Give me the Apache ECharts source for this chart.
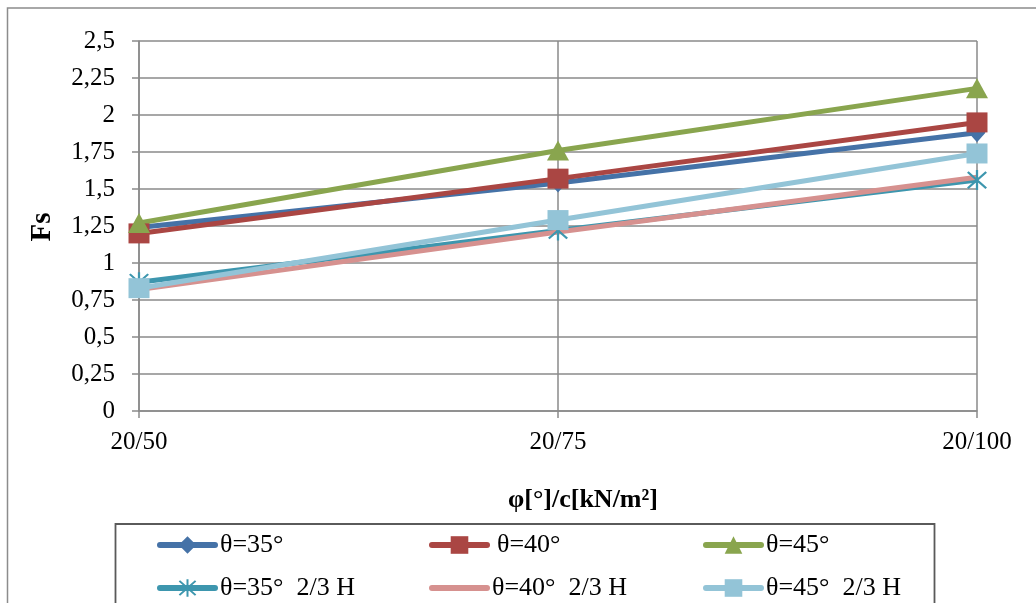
<!DOCTYPE html>
<html>
<head>
<meta charset="utf-8">
<script src="https://cdn.jsdelivr.net/npm/echarts@6/dist/echarts.min.js"></script>
<style>
  html, body { margin: 0; padding: 0; background: #ffffff; }
  #chart { width: 1036px; height: 603px; }
</style>
</head>
<body>
<div id="chart"></div>
<script>
// Safety factor Fs for each strength pair φ/c
const categories = ['20/50', '20/75', '20/100'];
const seriesNames = ['θ=35°', 'θ=40°', 'θ=45°', 'θ=35°  2/3 H', 'θ=40°  2/3 H', 'θ=45°  2/3 H'];
const fsTheta35 = [1.24, 1.54, 1.88];
const fsTheta40 = [1.20, 1.57, 1.95];
const fsTheta45 = [1.27, 1.76, 2.18];
const fsTheta35TwoThirdsH = [0.87, 1.22, 1.56];
const fsTheta40TwoThirdsH = [0.82, 1.21, 1.58];
const fsTheta45TwoThirdsH = [0.83, 1.29, 1.74];
const yTicks = { min: 0, max: 2.5, interval: 0.25 };
const xTitle = 'φ[°]/c[kN/m²]';
const yTitle = 'Fs';

const FONT = '"Liberation Serif", "Times New Roman", serif';
const GRID_GRAY = '#8a8a8a';

// asterisk marker: vertical bar plus an X
const STAR = 'path://M9,0 L11,0 L11,20 L9,20 Z M2.6,1.2 L18.8,17.4 L17.4,18.8 L1.2,2.6 Z M17.4,1.2 L18.8,2.6 L2.6,18.8 L1.2,17.4 Z';

const styles = [
  { color: '#4572A7', symbol: 'diamond', size: [17, 19], data: fsTheta35 },
  { color: '#AA4643', symbol: 'rect', size: [21, 20], data: fsTheta40 },
  { color: '#89A54E', symbol: 'triangle', size: [22, 20], data: fsTheta45 },
  { color: '#3D96AE', symbol: STAR, size: [20, 20], data: fsTheta35TwoThirdsH },
  { color: '#D6918F', symbol: 'none', size: 0, data: fsTheta40TwoThirdsH },
  { color: '#93C4D7', symbol: 'rect', size: [21, 20], data: fsTheta45TwoThirdsH }
];

const series = styles.map((s, i) => ({
  name: seriesNames[i],
  type: 'line',
  data: s.data,
  symbol: s.symbol,
  symbolSize: s.size,
  showSymbol: s.symbol !== 'none',
  color: s.color,
  lineStyle: { width: 5, color: s.color },
  itemStyle: { color: s.color, borderWidth: 0 },
  emphasis: { disabled: true },
  animation: false
}));

// legend slots: three columns, two rows
const legendSlots = [
  { left: 157, top: 532, pad: 0 },
  { left: 429, top: 532, pad: 5 },
  { left: 703, top: 532, pad: 0 },
  { left: 157, top: 575, pad: 0 },
  { left: 429, top: 575, pad: 0 },
  { left: 703, top: 575, pad: 0 }
];

const legends = legendSlots.map((p, i) => ({
  left: p.left,
  top: p.top,
  padding: 0,
  itemWidth: 55,
  itemHeight: 22,
  selectedMode: false,
  lineStyle: { width: 6, cap: 'round' },
  data: [i === 4 ? { name: seriesNames[i], itemStyle: { opacity: 0 } } : seriesNames[i]],
  textStyle: { fontFamily: FONT, fontSize: 26, color: '#000', lineHeight: 22, padding: [0, 0, 0, p.pad] }
}));

const chart = echarts.init(document.getElementById('chart'), null, { renderer: 'canvas' });
chart.setOption({
  backgroundColor: '#ffffff',
  animation: false,
  grid: { left: 139, right: 59, top: 41, bottom: 192, containLabel: false },
  xAxis: {
    type: 'category',
    data: categories,
    boundaryGap: false,
    axisLine: { lineStyle: { color: GRID_GRAY, width: 1.5 } },
    axisTick: { show: true, length: 7, lineStyle: { color: GRID_GRAY, width: 1.5 } },
    axisLabel: { margin: 19, fontFamily: FONT, fontSize: 25, color: '#000' },
    splitLine: { show: true, lineStyle: { color: GRID_GRAY, width: 1.5 } }
  },
  yAxis: {
    type: 'value',
    min: yTicks.min,
    max: yTicks.max,
    interval: yTicks.interval,
    axisLine: { show: true, lineStyle: { color: GRID_GRAY, width: 1.5 } },
    axisTick: { show: true, length: 7, lineStyle: { color: GRID_GRAY, width: 1.5 } },
    axisLabel: {
      margin: 24, fontFamily: FONT, fontSize: 25, color: '#000',
      formatter: v => String(v).replace('.', ',')
    },
    splitLine: { show: true, lineStyle: { color: GRID_GRAY, width: 1.5 } }
  },
  legend: legends,
  series: series,
  graphic: [
    { type: 'rect', silent: true, z: -1,
      shape: { x: 7.5, y: 8, width: 1200, height: 800 },
      style: { fill: 'none', stroke: '#8c8c8c', lineWidth: 1.5 } },
    { type: 'rect', silent: true, z: -1,
      shape: { x: 115.5, y: 524, width: 819, height: 300 },
      style: { fill: 'none', stroke: '#5a5a5a', lineWidth: 1.8 } },
    { type: 'text', silent: true, x: 583, y: 500,
      style: { text: xTitle, font: 'bold 26px ' + FONT, fill: '#000', align: 'center', verticalAlign: 'middle' } },
    { type: 'text', silent: true, x: 43, y: 227, rotation: Math.PI / 2,
      style: { text: yTitle, font: 'bold 29px ' + FONT, fill: '#000', align: 'center', verticalAlign: 'middle' } }
  ]
});
</script>
</body>
</html>
